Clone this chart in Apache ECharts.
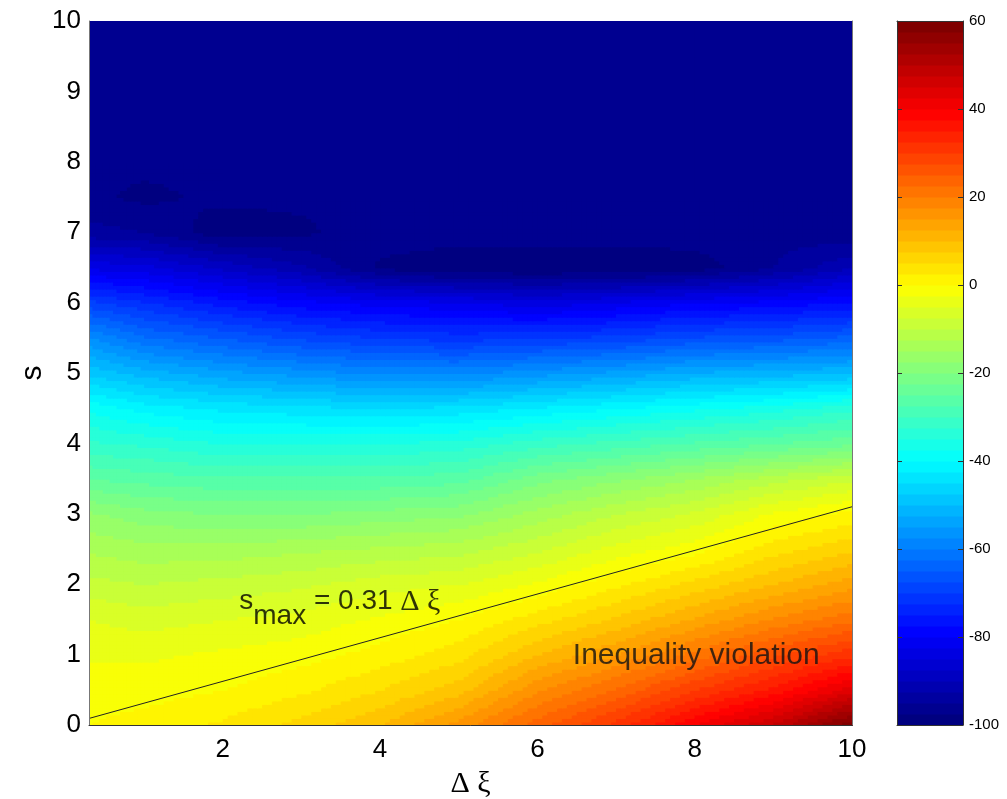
<!DOCTYPE html>
<html>
<head>
<meta charset="utf-8">
<script src="https://cdn.jsdelivr.net/npm/echarts@6/dist/echarts.min.js"></script>
<style>
  html, body { margin: 0; background: #fff; }
  #chart { width: 1007px; height: 799px; }
</style>
</head>
<body>
<div id="chart"></div>
<script>
const xNodes = [0.3, 1, 2, 3, 4, 5, 6, 7, 8, 9, 10];
// s positions of the rows
const sNodes = [0, 0.5, 1, 1.5, 2, 2.5, 3, 3.5, 4, 4.5, 5, 5.5, 6, 6.5, 7, 7.5, 8, 8.5, 9, 9.5, 10];
// surface value, one row per s (bottom up), left to right along xNodes
const surface = [
  [0, 1, 3, 6, 10, 16, 24, 31, 40, 48, 60],
  [-1, -1, 0, 2, 5, 9, 17, 23, 30, 36, 44],
  [-3, -3, -2, -1, 1, 4, 10, 15, 21, 27, 32],
  [-5, -6, -5, -4, -2, 0, 4, 8, 13, 18, 22],
  [-9, -10, -9, -8, -6, -5, -2, 2, 6, 10, 14],
  [-13, -14, -14, -13, -12, -11, -8, -4, -1, 4, 7],
  [-17, -19, -20, -20, -19, -18, -14, -10, -7, -2, 1],
  [-25, -26, -27, -27, -27, -26, -21, -18, -15, -11, -8],
  [-32, -33, -35, -35, -35, -34, -31, -29, -27, -25, -23],
  [-38, -41, -43, -44, -45, -44, -42, -40, -38, -36, -33],
  [-48, -51, -54, -56, -58, -58, -56, -54, -52, -51, -50],
  [-57, -62, -65, -68, -70, -71, -70, -69, -67, -66, -64],
  [-69, -72, -76, -79, -81, -82, -84, -82, -80, -79, -77],
  [-83, -84, -88, -92, -98, -100, -100, -100, -99, -95, -90],
  [-94, -95, -99, -98, -96, -96, -96, -96, -96, -96, -97],
  [-97, -98, -97, -97, -97, -97, -97, -97, -97, -97, -97],
  [-97, -97, -97, -97, -97, -97, -97, -97, -97, -97, -97],
  [-97, -97, -97, -97, -97, -97, -97, -97, -97, -97, -97],
  [-97, -97, -97, -97, -97, -97, -97, -97, -97, -97, -97],
  [-97, -97, -97, -97, -97, -97, -97, -97, -97, -97, -97],
  [-97, -97, -97, -97, -97, -97, -97, -97, -97, -97, -97]
];
// the s_max = 0.31 Δξ line
const boundaryX = [0.3, 10];
const boundaryS = [0.093, 3.1];

const xTicks = [2, 4, 6, 8, 10];
const colorMin = -100, colorMax = 60;

const sansFont = 'Liberation Sans, Arial, sans-serif';
const serifFont = 'Liberation Serif, Times New Roman, serif';

// matlab jet, 64 levels
const jetStops = ['#000080', '#0000ff', '#0080ff', '#00ffff', '#80ff80', '#ffff00', '#ff8000', '#ff0000', '#800000'];
const nLevels = 64;
const palette = [];
for (let k = 0; k < nLevels; k++) palette.push(echarts.color.lerp(k / (nLevels - 1), jetStops));

function levelColor(v) {
  let t = (v - colorMin) / (colorMax - colorMin);
  t = Math.max(0, Math.min(1, t));
  return palette[Math.min(nLevels - 1, Math.floor(t * nLevels))];
}

// one item per cell of the read grid
const cells = [];
for (let j = 0; j < sNodes.length - 1; j++) {
  for (let i = 0; i < xNodes.length - 1; i++) cells.push([i, j]);
}

const SUB_X = 16, SUB_Y = 10;

function renderCell(params, api) {
  const i = api.value(0), j = api.value(1);
  const p0 = api.coord([xNodes[i], sNodes[j]]);
  const p1 = api.coord([xNodes[i + 1], sNodes[j + 1]]);
  const v00 = surface[j][i], v10 = surface[j][i + 1];
  const v01 = surface[j + 1][i], v11 = surface[j + 1][i + 1];
  const w = p1[0] - p0[0], h = p0[1] - p1[1];
  if (v00 === v10 && v00 === v01 && v00 === v11) {
    return {
      type: 'rect',
      shape: { x: p0[0], y: p1[1], width: w + 1, height: h + 1 },
      style: { fill: levelColor(v00) }
    };
  }
  const children = [];
  for (let b = 0; b < SUB_Y; b++) {
    const v = (b + 0.5) / SUB_Y;
    for (let a = 0; a < SUB_X; a++) {
      const u = (a + 0.5) / SUB_X;
      const val = v00 * (1 - u) * (1 - v) + v10 * u * (1 - v) + v01 * (1 - u) * v + v11 * u * v;
      children.push({
        type: 'rect',
        shape: {
          x: p0[0] + w * a / SUB_X,
          y: p0[1] - h * (b + 1) / SUB_Y,
          width: w / SUB_X + 1,
          height: h / SUB_Y + 1
        },
        style: { fill: levelColor(val) }
      });
    }
  }
  return { type: 'group', children: children };
}

const colorBands = [];
for (let k = 0; k < nLevels; k++) colorBands.push(k);

function renderBand(params, api) {
  const k = api.value(0);
  const step = (colorMax - colorMin) / nLevels;
  const lo = api.coord([0, colorMin + k * step]);
  const hi = api.coord([1, colorMin + (k + 1) * step]);
  return {
    type: 'rect',
    shape: { x: lo[0], y: hi[1], width: hi[0] - lo[0], height: lo[1] - hi[1] + 0.6 },
    style: { fill: palette[k] }
  };
}

const chart = echarts.init(document.getElementById('chart'), null, { renderer: 'canvas' });

const frameLine = { show: true, onZero: false, lineStyle: { color: '#333', width: 1 } };

const option = {
  backgroundColor: '#ffffff',
  animation: false,
  grid: [
    {
      left: 89, top: 21, width: 763, height: 704, outerBoundsMode: 'none', containLabel: false,
      show: true, borderWidth: 0, backgroundColor: palette[1]
    },
    { left: 897, top: 21, width: 66, height: 704, outerBoundsMode: 'none', containLabel: false }
  ],
  xAxis: [
    {
      gridIndex: 0, type: 'value', min: 0.3, max: 10, position: 'bottom', z: 5,
      axisLine: frameLine, axisTick: { show: false }, splitLine: { show: false },
      axisLabel: { customValues: xTicks, fontSize: 26, color: '#000', fontFamily: sansFont, margin: 12 },
      name: 'Δ ξ', nameLocation: 'middle', nameGap: 44, nameMoveOverlap: false,
      nameTextStyle: { fontFamily: serifFont, fontSize: 30, color: '#000' }
    },
    {
      gridIndex: 0, type: 'value', min: 0.3, max: 10, position: 'top', z: 5,
      axisLine: { show: false }, axisTick: { show: false }, axisLabel: { show: false }, splitLine: { show: false }
    },
    {
      gridIndex: 1, type: 'value', min: 0, max: 1, position: 'bottom', z: 5,
      axisLine: frameLine, axisTick: { show: false }, axisLabel: { show: false }, splitLine: { show: false }
    },
    {
      gridIndex: 1, type: 'value', min: 0, max: 1, position: 'top', z: 5,
      axisLine: frameLine, axisTick: { show: false }, axisLabel: { show: false }, splitLine: { show: false }
    }
  ],
  yAxis: [
    {
      gridIndex: 0, type: 'value', min: 0, max: 10, interval: 1, position: 'left', z: 5,
      axisLine: { show: true, onZero: false, lineStyle: { color: '#777', width: 1 } },
      axisTick: { show: false }, splitLine: { show: false },
      axisLabel: { fontSize: 26, color: '#000', fontFamily: sansFont, margin: 8 },
      name: 's', nameLocation: 'middle', nameGap: 41, nameRotate: 90, nameMoveOverlap: false,
      nameTextStyle: { fontFamily: sansFont, fontSize: 30, color: '#000' }
    },
    {
      gridIndex: 0, type: 'value', min: 0, max: 10, position: 'right', z: 5,
      axisLine: { show: true, onZero: false, lineStyle: { color: '#777', width: 1 } },
      axisTick: { show: false }, axisLabel: { show: false }, splitLine: { show: false }
    },
    {
      gridIndex: 1, type: 'value', min: colorMin, max: colorMax, interval: 20, position: 'right', z: 5,
      axisLine: frameLine, splitLine: { show: false },
      axisTick: { inside: true, length: 5, lineStyle: { color: '#333' } },
      axisLabel: { fontSize: 15, color: '#000', fontFamily: sansFont, margin: 6 }
    },
    {
      gridIndex: 1, type: 'value', min: colorMin, max: colorMax, interval: 20, position: 'left', z: 5,
      axisLine: frameLine, splitLine: { show: false },
      axisTick: { inside: true, length: 5, lineStyle: { color: '#333' } },
      axisLabel: { show: false }
    }
  ],
  series: [
    {
      type: 'custom', xAxisIndex: 0, yAxisIndex: 0, data: cells,
      renderItem: renderCell, silent: true, z: 1
    },
    {
      type: 'line', xAxisIndex: 0, yAxisIndex: 0, z: 3, silent: true,
      data: boundaryX.map((x, k) => [x, boundaryS[k]]),
      symbol: 'none', lineStyle: { color: '#222', width: 1 }
    },
    {
      type: 'scatter', xAxisIndex: 0, yAxisIndex: 0, z: 4, silent: true,
      symbolSize: 0,
      data: [
        { value: [2.21, 1.65], label: {
            show: true, position: 'right', distance: 0,
            formatter: '{s|s}{m|max}{t| = 0.31 }{g|Δ ξ}',
            rich: {
              s: { fontSize: 28, fontFamily: sansFont, color: '#000', verticalAlign: 'top' },
              m: { fontSize: 28, fontFamily: sansFont, color: '#000', padding: [15, 0, 0, 0], verticalAlign: 'top' },
              t: { fontSize: 28, fontFamily: sansFont, color: '#000', verticalAlign: 'top' },
              g: { fontSize: 30, fontFamily: serifFont, color: '#000', verticalAlign: 'top' }
            }
          } },
        { value: [8.02, 0.99], label: {
            show: true, position: 'inside', formatter: 'Inequality violation',
            fontSize: 30, fontFamily: sansFont, color: '#111'
          } }
      ]
    },
    {
      type: 'custom', xAxisIndex: 2, yAxisIndex: 2, data: colorBands,
      renderItem: renderBand, silent: true, z: 1
    }
  ]
};

chart.setOption(option);
</script>
</body>
</html>
